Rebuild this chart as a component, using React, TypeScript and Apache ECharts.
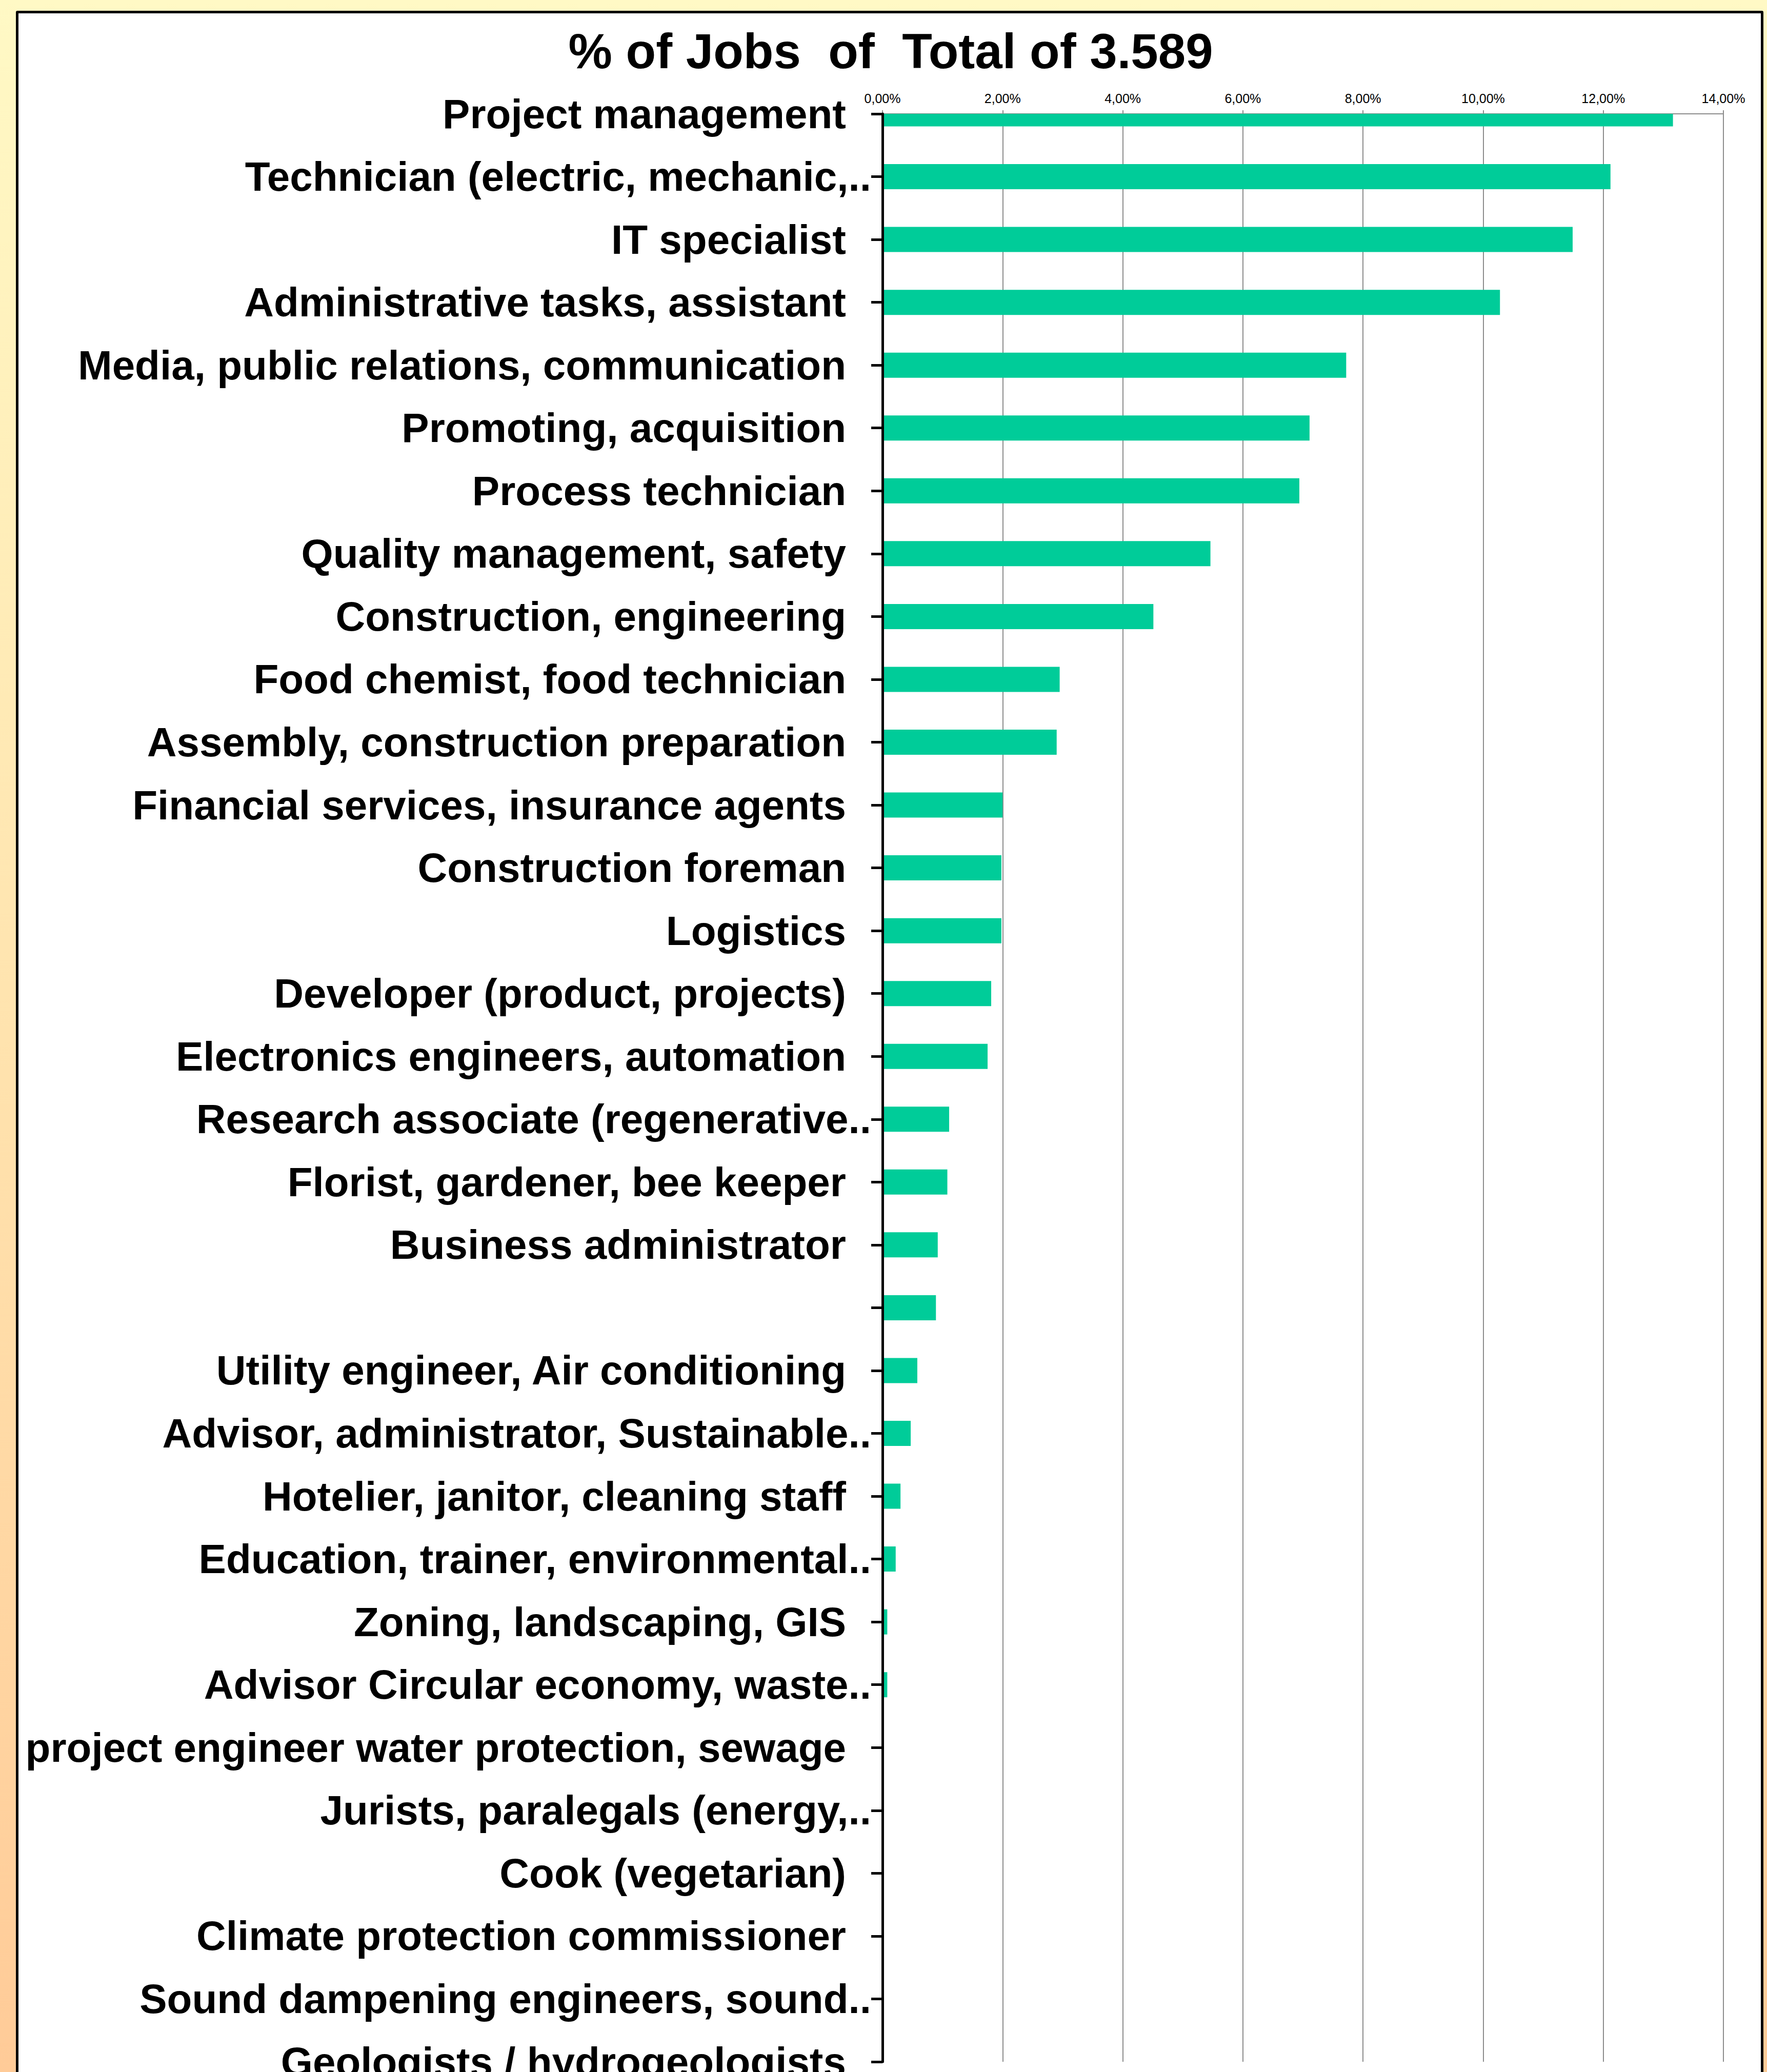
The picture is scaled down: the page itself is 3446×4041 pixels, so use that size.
import React, { useEffect, useRef } from 'react';
import * as echarts from 'echarts';

const categories: string[] = [
  'Project management',
  'Technician (electric, mechanic,..',
  'IT specialist',
  'Administrative tasks, assistant',
  'Media, public relations, communication',
  'Promoting, acquisition',
  'Process technician',
  'Quality management, safety',
  'Construction, engineering',
  'Food chemist, food technician',
  'Assembly, construction preparation',
  'Financial services, insurance agents',
  'Construction foreman',
  'Logistics',
  'Developer (product, projects)',
  'Electronics engineers, automation',
  'Research associate (regenerative..',
  'Florist, gardener, bee keeper',
  'Business administrator',
  '',
  'Utility engineer, Air conditioning',
  'Advisor, administrator, Sustainable..',
  'Hotelier, janitor, cleaning staff',
  'Education, trainer, environmental..',
  'Zoning, landscaping, GIS',
  'Advisor Circular economy, waste..',
  'project engineer water protection, sewage',
  'Jurists, paralegals (energy,..',
  'Cook (vegetarian)',
  'Climate protection commissioner',
  'Sound dampening engineers, sound..',
  'Geologists / hydrogeologists',
];

// share of jobs in percent
const shares: number[] = [
  13.16, 12.12, 11.49, 10.28, 7.72, 7.11, 6.94, 5.46, 4.51, 2.95, 2.9, 2.0, 1.98, 1.98, 1.81, 1.75,
  1.11, 1.08, 0.92, 0.89, 0.58, 0.47, 0.3, 0.22, 0.08, 0.08, 0, 0, 0, 0, 0, 0,
];

const titleText = '% of Jobs  of  Total of 3.589';
const xMin = 0;
const xMax = 14;
const xStep = 2;

const FONT = '"Liberation Sans", Arial, Helvetica, sans-serif';
const BAR_COLOR = '#00CC99';
const BAR_THICKNESS = 49;

export default function App() {
  const ref = useRef<HTMLDivElement>(null);

  useEffect(() => {
    if (!ref.current) return;
    const chart = echarts.init(ref.current, null, { renderer: 'svg' });
    const labelBase = {
      fontSize: 80,
      fontWeight: 'bold',
      fontFamily: FONT,
      color: '#000',
    };
    chart.setOption({
      animation: false,
      backgroundColor: 'transparent',
      graphic: [
        {
          type: 'text',
          x: 1737,
          y: 99,
          style: {
            text: titleText,
            fill: '#000',
            font: `bold 96px ${FONT}`,
            textAlign: 'center',
            textVerticalAlign: 'middle',
            align: 'center',
            verticalAlign: 'middle',
          },
        },
      ],
      grid: {
        left: 1721,
        width: 1640,
        top: 222,
        height: 3799,
        containLabel: false,
        outerBoundsMode: 'none',
      },
      xAxis: {
        type: 'value',
        position: 'top',
        min: xMin,
        max: xMax,
        interval: xStep,
        axisLine: { show: true, lineStyle: { color: '#8c8c8c', width: 2 } },
        axisTick: { show: true, length: 7, lineStyle: { color: '#8c8c8c', width: 2 } },
        splitLine: { show: true, lineStyle: { color: '#8c8c8c', width: 2 } },
        axisLabel: {
          formatter: (v: number) => v.toFixed(2).replace('.', ',') + '%',
          fontSize: 25,
          color: '#000',
          fontFamily: FONT,
          margin: 18,
        },
      },
      yAxis: {
        type: 'category',
        data: categories,
        inverse: true,
        boundaryGap: false,
        z: 3,
        axisLine: { show: true, lineStyle: { color: '#000', width: 5 } },
        axisTick: { show: true, interval: 0, length: 22, lineStyle: { color: '#000', width: 5 } },
        splitLine: { show: false },
        axisLabel: {
          interval: 0,
          margin: 22,
          hideOverlap: false,
          formatter: (v: string) => {
            if (!v) return '';
            return v.endsWith('..') ? `{t|${v}}` : `{n|${v}}`;
          },
          rich: {
            t: { ...labelBase },
            n: { ...labelBase, padding: [0, 49, 0, 0] },
          },
        },
      },
      series: [
        {
          type: 'custom',
          data: shares.map((v, i) => [v, i]),
          encode: { x: 0, y: 1 },
          renderItem: (params: any, api: any) => {
            const val = api.value(0);
            const idx = api.value(1);
            const start = api.coord([0, idx]);
            const end = api.coord([val, idx]);
            const cs = params.coordSys;
            const rect = echarts.graphic.clipRectByRect(
              {
                x: start[0],
                y: start[1] - BAR_THICKNESS / 2,
                width: end[0] - start[0],
                height: BAR_THICKNESS,
              },
              { x: cs.x, y: cs.y, width: cs.width, height: cs.height }
            );
            if (!rect || rect.width <= 0) return null;
            return { type: 'rect', shape: rect, style: { fill: BAR_COLOR } };
          },
        },
      ],
    });
    return () => chart.dispose();
  }, []);

  return (
    <div
      style={{
        position: 'absolute',
        left: 0,
        top: 0,
        width: 3446,
        height: 4041,
        overflow: 'hidden',
        background: 'linear-gradient(to bottom, #FFF9C5 0%, #FFE3AE 50%, #FFCB98 100%)',
      }}
    >
      <div
        style={{
          position: 'absolute',
          left: 31,
          top: 21,
          width: 3408,
          height: 4200,
          boxSizing: 'border-box',
          border: '5px solid #000',
          borderRadius: 3,
          background: '#fff',
        }}
      />
      <div
        ref={ref}
        style={{ position: 'absolute', left: 0, top: 0, width: 3446, height: 4041 }}
      />
    </div>
  );
}
